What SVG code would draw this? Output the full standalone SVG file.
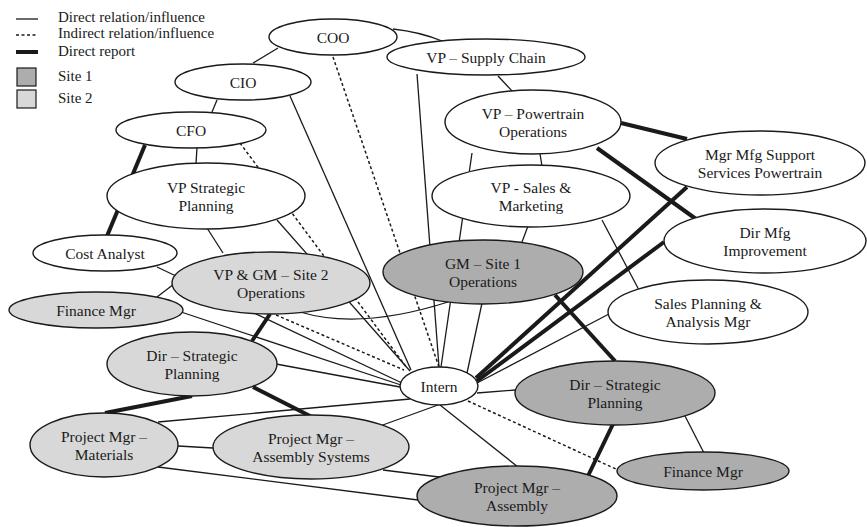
<svg xmlns="http://www.w3.org/2000/svg" width="867" height="527" viewBox="0 0 867 527">
<style>
text{font-family:"Liberation Serif","Times New Roman",serif;font-size:15.5px;fill:#1a1a1a;text-anchor:middle}
.leg text{text-anchor:start;font-size:15px}
ellipse{stroke:#1a1a1a;stroke-width:1.4}
.n0{fill:#ffffff}
.s1{fill:#adadad}
.s2{fill:#d8d8d8}
.c path{fill:none;stroke:#1a1a1a}
.d{stroke-width:1.3}
.i{stroke-width:1.5;stroke-dasharray:3 2.5}
.r{stroke-width:4}
</style>
<g class="leg" id="legend">
<line x1="16" y1="19" x2="38" y2="19" stroke="#1a1a1a" stroke-width="1.3"/>
<text x="58" y="22">Direct relation/influence</text>
<line x1="16" y1="35" x2="38" y2="35" stroke="#1a1a1a" stroke-width="1.5" stroke-dasharray="3 2.5"/>
<text x="58" y="38">Indirect relation/influence</text>
<line x1="16" y1="52" x2="38" y2="52" stroke="#1a1a1a" stroke-width="4"/>
<text x="58" y="56">Direct report</text>
<rect x="17" y="68" width="19" height="18" fill="#adadad" stroke="#1a1a1a" stroke-width="1.2"/>
<text x="58" y="81">Site 1</text>
<rect x="17" y="90" width="19" height="18" fill="#d8d8d8" stroke="#1a1a1a" stroke-width="1.2"/>
<text x="58" y="103">Site 2</text>
</g>
<g class="c" id="connectors">
<path class="d" d="M253,63 L278,48"/>
<path class="d" d="M393,29 Q420,32 442,41"/>
<path class="d" d="M217,100 L212,112"/>
<path class="d" d="M290,96 L411,370"/>
<path class="d" d="M197,148 L196,163"/>
<path class="d" d="M207,228 L223,253"/>
<path class="d" d="M277,220 L410,371"/>
<path class="d" d="M157,267 L402,383"/>
<path class="d" d="M157,297 L174,284"/>
<path class="d" d="M181,312 L401,385"/>
<path class="d" d="M276,364 L400,387"/>
<path class="d" d="M300,312 Q360,330 448,302"/>
<path class="d" d="M417,74 L439,367"/>
<path class="d" d="M498,76 L513,92"/>
<path class="d" d="M472,153 L441,367"/>
<path class="d" d="M540,154 L542,166"/>
<path class="d" d="M528,226 L522,242"/>
<path class="d" d="M482,303 L467,373"/>
<path class="d" d="M602,220 L639,290"/>
<path class="d" d="M609,314 L477,383"/>
<path class="d" d="M477,393 L515,390"/>
<path class="d" d="M685,416 L704,453"/>
<path class="d" d="M440,405 L518,467"/>
<path class="d" d="M158,422 L410,399"/>
<path class="d" d="M380,426 L438,405"/>
<path class="d" d="M178,446 L213,448"/>
<path class="d" d="M158,467 L418,500"/>
<path class="d" d="M383,470 L447,478"/>
<path class="i" d="M333,57 L439,367"/>
<path class="i" d="M240,143 L407,368"/>
<path class="i" d="M276,315 L404,370"/>
<path class="i" d="M468,401 L618,470"/>
<path class="r" d="M145,145 L107,236"/>
<path class="r" d="M270,314 L252,341"/>
<path class="r" d="M192,396 L105,413"/>
<path class="r" d="M253,387 L312,417"/>
<path class="r" d="M621,123 L687,139"/>
<path class="r" d="M597,148 L696,219"/>
<path class="r" d="M687,187 L476,378"/>
<path class="r" d="M664,242 L477,381"/>
<path class="r" d="M555,295 L615,361"/>
<path class="r" d="M613,424 L587,478"/>
</g>
<g id="coo"><ellipse class="n0" cx="333" cy="37" rx="64" ry="18"/><text x="333" y="43">COO</text></g>
<g id="vp-supply"><ellipse class="n0" cx="486" cy="57" rx="99" ry="18"/><text x="486" y="63">VP – Supply Chain</text></g>
<g id="cio"><ellipse class="n0" cx="243" cy="82" rx="68" ry="18"/><text x="243" y="88">CIO</text></g>
<g id="cfo"><ellipse class="n0" cx="191" cy="130" rx="75" ry="18"/><text x="191" y="136">CFO</text></g>
<g id="vp-strategic"><ellipse class="n0" cx="206" cy="196" rx="99" ry="33"/><text x="206" y="193">VP Strategic</text><text x="206" y="211">Planning</text></g>
<g id="cost-analyst"><ellipse class="n0" cx="105" cy="253" rx="72" ry="18"/><text x="105" y="259">Cost Analyst</text></g>
<g id="vpgm-site2"><ellipse class="s2" cx="271" cy="283" rx="99" ry="31"/><text x="271" y="280">VP &amp; GM – Site 2</text><text x="271" y="298">Operations</text></g>
<g id="finance-mgr-2"><ellipse class="s2" cx="96" cy="310" rx="87" ry="18"/><text x="96" y="316">Finance Mgr</text></g>
<g id="dir-sp-2"><ellipse class="s2" cx="192" cy="364" rx="85" ry="32"/><text x="192" y="361">Dir – Strategic</text><text x="192" y="379">Planning</text></g>
<g id="pm-materials"><ellipse class="s2" cx="104" cy="445" rx="74" ry="32"/><text x="104" y="442">Project Mgr –</text><text x="104" y="460">Materials</text></g>
<g id="pm-asm-sys"><ellipse class="s2" cx="311" cy="447" rx="98" ry="32"/><text x="311" y="444">Project Mgr –</text><text x="311" y="462">Assembly Systems</text></g>
<g id="intern"><ellipse class="n0" cx="439" cy="386" rx="39" ry="19"/><text x="439" y="392">Intern</text></g>
<g id="gm-site1"><ellipse class="s1" cx="483" cy="272" rx="100" ry="32"/><text x="483" y="269">GM – Site 1</text><text x="483" y="287">Operations</text></g>
<g id="vp-sales"><ellipse class="n0" cx="531" cy="196" rx="99" ry="31"/><text x="531" y="193">VP - Sales &amp;</text><text x="531" y="211">Marketing</text></g>
<g id="vp-powertrain"><ellipse class="n0" cx="533" cy="122" rx="88" ry="32"/><text x="533" y="119">VP – Powertrain</text><text x="533" y="137">Operations</text></g>
<g id="mgr-mfg"><ellipse class="n0" cx="760" cy="163" rx="105" ry="32"/><text x="760" y="160">Mgr Mfg Support</text><text x="760" y="178">Services Powertrain</text></g>
<g id="dir-mfg"><ellipse class="n0" cx="765" cy="241" rx="101" ry="32"/><text x="765" y="238">Dir Mfg</text><text x="765" y="256">Improvement</text></g>
<g id="sales-planning"><ellipse class="n0" cx="708" cy="312" rx="100" ry="32"/><text x="708" y="309">Sales Planning &amp;</text><text x="708" y="327">Analysis Mgr</text></g>
<g id="dir-sp-1"><ellipse class="s1" cx="615" cy="393" rx="100" ry="32"/><text x="615" y="390">Dir – Strategic</text><text x="615" y="408">Planning</text></g>
<g id="finance-mgr-1"><ellipse class="s1" cx="703" cy="471" rx="86" ry="19"/><text x="703" y="477">Finance Mgr</text></g>
<g id="pm-assembly"><ellipse class="s1" cx="517" cy="496" rx="100" ry="30"/><text x="517" y="493">Project Mgr –</text><text x="517" y="511">Assembly</text></g>
</svg>
